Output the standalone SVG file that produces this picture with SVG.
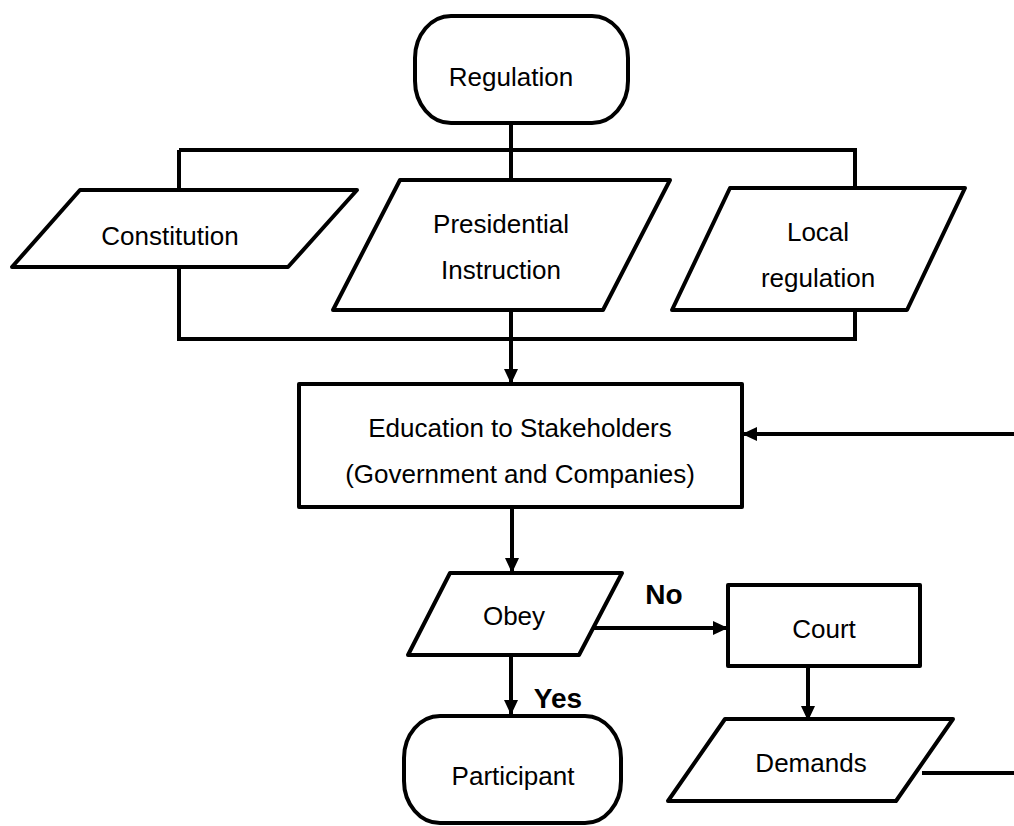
<svg xmlns="http://www.w3.org/2000/svg" width="1014" height="826" viewBox="0 0 1014 826">
<style>
.s{fill:#fff;stroke:#000;stroke-width:4;stroke-linejoin:round}
.l{fill:none;stroke:#000;stroke-width:4}
.t{font-family:"Liberation Sans",Arial,sans-serif;font-size:26px;fill:#000;text-anchor:middle}
.b{font-family:"Liberation Sans",Arial,sans-serif;font-size:28px;font-weight:bold;fill:#000;text-anchor:middle}
</style>
<defs>
<marker id="a" markerUnits="userSpaceOnUse" markerWidth="16" markerHeight="16" viewBox="0 0 16 16" refX="14" refY="8" orient="auto">
<path d="M0,1 L15,8 L0,15 Z" fill="#000"/>
</marker>
</defs>
<g id="connectors">
<polyline class="l" points="179,150 855,150 855,339 179,339 179,150"/>
<line class="l" x1="511" y1="123" x2="511" y2="180"/>
<line class="l" x1="511" y1="310" x2="511" y2="383" marker-end="url(#a)"/>
<line class="l" x1="1014" y1="434" x2="743" y2="434" marker-end="url(#a)"/>
<line class="l" x1="512" y1="507" x2="512" y2="572" marker-end="url(#a)"/>
<line class="l" x1="590" y1="628" x2="727" y2="628" marker-end="url(#a)"/>
<line class="l" x1="511" y1="655" x2="511" y2="714" marker-end="url(#a)"/>
<line class="l" x1="808" y1="666" x2="808" y2="720" marker-end="url(#a)"/>
<line class="l" x1="922" y1="773" x2="1014" y2="773"/>
<text class="b" x="664" y="604">No</text>
<text class="b" x="558" y="708">Yes</text>
</g>
<g id="regulation">
<rect class="s" x="415" y="16" width="213" height="107" rx="36" ry="42"/>
<text class="t" x="511" y="86">Regulation</text>
</g>
<g id="constitution">
<polygon class="s" points="80,190 357,190 288,267 12,267"/>
<text class="t" x="170" y="245">Constitution</text>
</g>
<g id="presidential">
<polygon class="s" points="400,180 670,180 603,310 333,310"/>
<text class="t" x="501" y="233">Presidential</text>
<text class="t" x="501" y="279">Instruction</text>
</g>
<g id="local">
<polygon class="s" points="730,188 965,188 907,310 672,310"/>
<text class="t" x="818" y="241">Local</text>
<text class="t" x="818" y="287">regulation</text>
</g>
<g id="education">
<rect class="s" x="299" y="384" width="443" height="123"/>
<text class="t" x="520" y="437">Education to Stakeholders</text>
<text class="t" x="520" y="483">(Government and Companies)</text>
</g>
<g id="obey">
<polygon class="s" points="450,573 622,573 579,655 408,655"/>
<text class="t" x="514" y="625">Obey</text>
</g>
<g id="court">
<rect class="s" x="728" y="585" width="192" height="81"/>
<text class="t" x="824" y="638">Court</text>
</g>
<g id="participant">
<rect class="s" x="404" y="716" width="217" height="107" rx="36" ry="42"/>
<text class="t" x="513" y="785">Participant</text>
</g>
<g id="demands">
<polygon class="s" points="725,719 953,719 896,801 668,801"/>
<text class="t" x="811" y="772">Demands</text>
</g>
</svg>
